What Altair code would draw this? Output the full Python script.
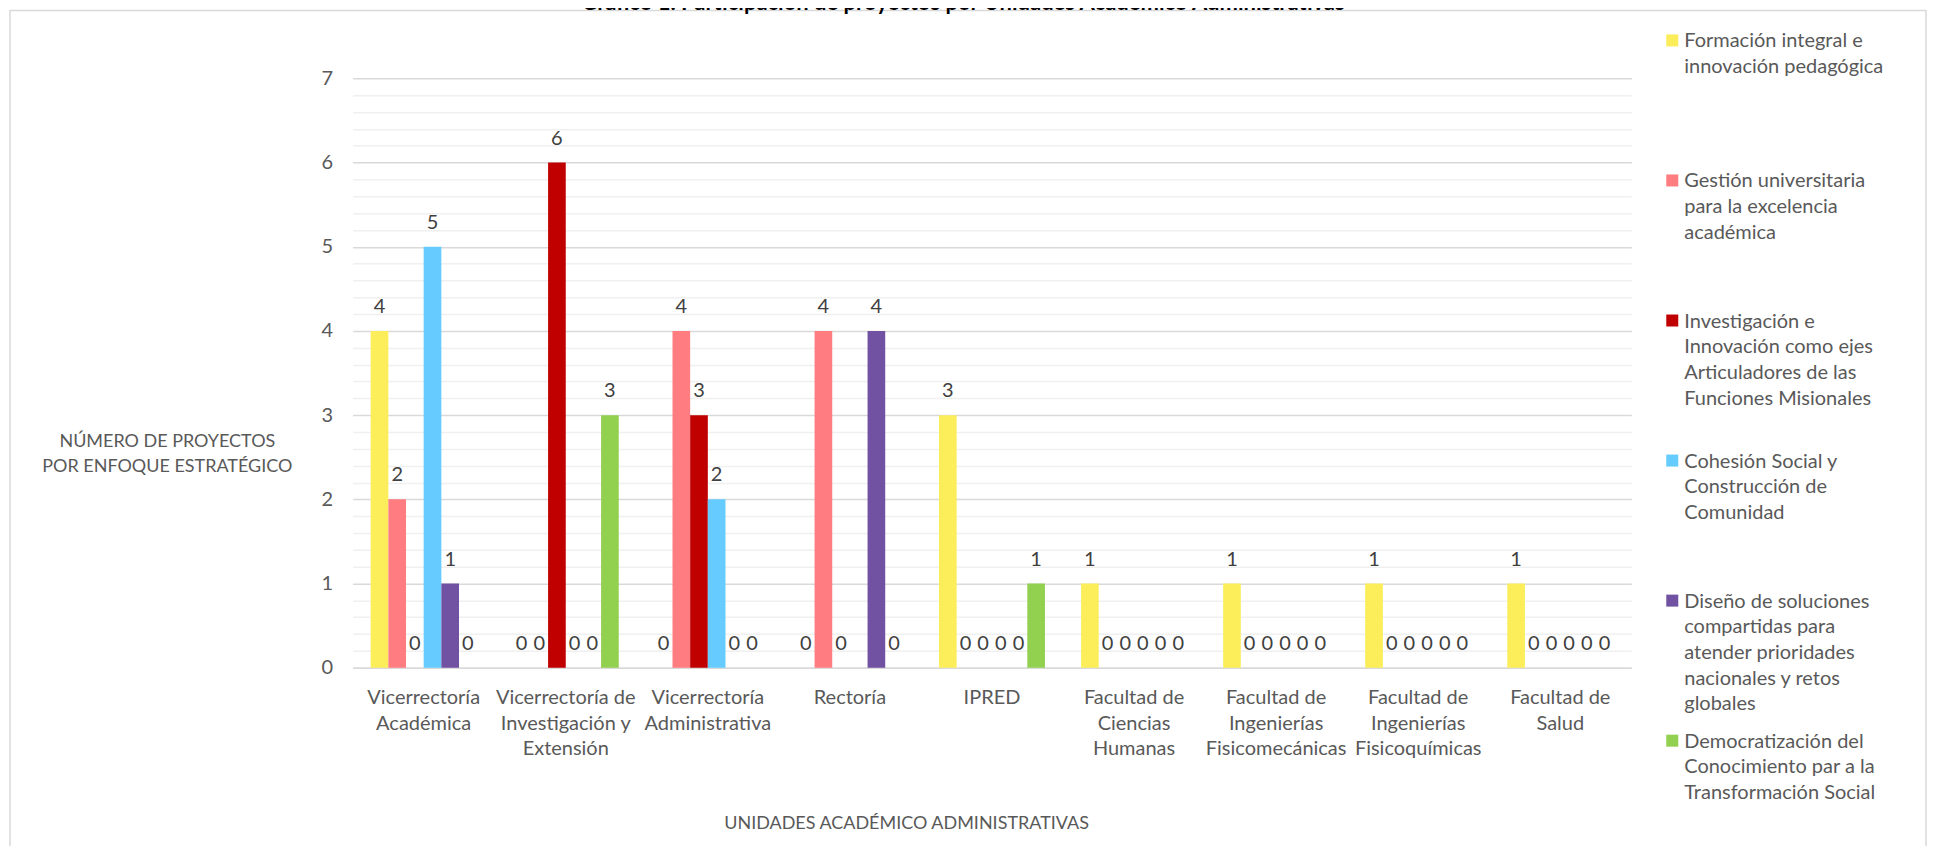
import altair as alt
import pandas as pd

# ---------------- data ----------------
unidades = [
    "Vicerrectoría\nAcadémica",
    "Vicerrectoría de\nInvestigación y\nExtensión",
    "Vicerrectoría\nAdministrativa",
    "Rectoría",
    "IPRED",
    "Facultad de\nCiencias\nHumanas",
    "Facultad de\nIngenierías\nFisicomecánicas",
    "Facultad de\nIngenierías\nFisicoquímicas",
    "Facultad de\nSalud",
]

enfoques = [
    "Formación integral e innovación pedagógica",
    "Gestión universitaria para la excelencia académica",
    "Investigación e Innovación como ejes Articuladores de las Funciones Misionales",
    "Cohesión Social y Construcción de Comunidad",
    "Diseño de soluciones compartidas para atender prioridades nacionales y retos globales",
    "Democratización del Conocimiento par a la Transformación Social",
]

enfoques_leyenda = [
    "Formación integral e\ninnovación pedagógica",
    "Gestión universitaria\npara la excelencia\nacadémica",
    "Investigación e\nInnovación como ejes\nArticuladores de las\nFunciones Misionales",
    "Cohesión Social y\nConstrucción de\nComunidad",
    "Diseño de soluciones\ncompartidas para\natender prioridades\nnacionales y retos\nglobales",
    "Democratización del\nConocimiento par a la\nTransformación Social",
]

colores = ["#FBEE5A", "#FF7C80", "#C00000", "#66CCFF", "#7151A1", "#92D050"]

formacion = [4, 0, 0, 0, 3, 1, 1, 1, 1]
gestion = [2, 0, 4, 4, 0, 0, 0, 0, 0]
investigacion = [0, 6, 3, 0, 0, 0, 0, 0, 0]
cohesion = [5, 0, 2, None, 0, 0, 0, 0, 0]
diseno = [1, 0, 0, 4, 0, 0, 0, 0, 0]
democratizacion = [0, 3, 0, 0, 1, 0, 0, 0, 0]

series = [formacion, gestion, investigacion, cohesion, diseno, democratizacion]

titulo = "Gráfico 1. Participación de proyectos por Unidades Académico Administrativas"
titulo_x = "UNIDADES ACADÉMICO ADMINISTRATIVAS"
titulo_y = ["NÚMERO DE PROYECTOS", "POR ENFOQUE ESTRATÉGICO"]

# ---------------- tables ----------------
rows = []
for e, vals in zip(enfoques, series):
    for u, v in zip(unidades, vals):
        rows.append({"unidad": u, "enfoque": e, "valor": v})
df = pd.DataFrame(rows)

leyenda_df = pd.DataFrame({"enfoque": enfoques, "etiqueta": enfoques_leyenda})
uno = pd.DataFrame({"k": [0]})

# ---------------- layout ----------------
FONT = "Lato"
FS = 20
W, H = 1280, 590
PL, PT = 345, 70
PR, PB = 296, 178

grid_vals = [round(i * 0.2, 1) for i in range(36)]

color_scale = alt.Scale(domain=enfoques, range=colores)

x_enc = alt.X(
    "unidad:N",
    sort=unidades,
    scale=alt.Scale(paddingInner=0.254, paddingOuter=0.127),
    axis=alt.Axis(
        title=titulo_x,
        labelAngle=0,
        labelExpr="split(datum.label, '\\n')",
        labelBaseline="top",
        labelLineHeight=25.5,
        labelPadding=20,
        labelLimit=400,
        labelOverlap=False,
        labelFontSize=FS,
        ticks=False,
        tickSize=0,
        domainColor="#d9d9d9",
        domainWidth=1.5,
        grid=False,
        titleX=554,
        titleY=156,
        titleAlign="center",
        titleBaseline="middle",
        titleFontSize=18,
    ),
)

y_enc = alt.Y(
    "valor:Q",
    scale=alt.Scale(domain=[0, 7], nice=False),
    axis=alt.Axis(
        values=grid_vals,
        tickCount=60,
        labelExpr="datum.value % 1 === 0 ? format(datum.value, 'd') : ''",
        gridColor={"condition": {"test": "datum.value % 1 === 0", "value": "#d9d9d9"},
                   "value": "#f0f0f0"},
        gridWidth=1.5,
        domain=False,
        ticks=False,
        tickSize=0,
        labelPadding=20,
        labelBaseline="middle",
        labelFontSize=FS,
        labelOverlap=False,
        title=titulo_y,
        titleAngle=0,
        titleX=-186,
        titleY=364,
        titleAlign="center",
        titleBaseline="middle",
        titleLineHeight=25,
        titleFontSize=18,
    ),
)

xo = alt.XOffset("enfoque:N", sort=enfoques, scale=alt.Scale(paddingInner=0, paddingOuter=0))

bars = alt.Chart(df).mark_bar().encode(
    x=x_enc,
    xOffset=xo,
    y=y_enc,
    color=alt.Color("enfoque:N", scale=color_scale, legend=None),
)

labels = alt.Chart(df).mark_text(
    dy=-24, baseline="middle", align="center", fontSize=FS, color="#404040", font=FONT
).encode(
    x=alt.X("unidad:N", sort=unidades),
    xOffset=xo,
    y=alt.Y("valor:Q"),
    text=alt.Text("valor:Q", format="d"),
)

main = alt.layer(bars, labels)

leg_y = alt.Y("enfoque:N", sort=enfoques,
              scale=alt.Scale(type="point", range=[-38, 663], padding=0), axis=None)

leg_sq = alt.Chart(leyenda_df).mark_square(size=144, opacity=1).encode(
    x=alt.value(1321),
    y=leg_y,
    color=alt.Color("enfoque:N", scale=color_scale, legend=None),
)

leg_txt = alt.Chart(leyenda_df).mark_text(
    align="left", baseline="alphabetic", dy=7, lineBreak="\n", lineHeight=25.7,
    fontSize=FS, color="#595959", font=FONT
).encode(
    x=alt.value(1333),
    y=leg_y,
    text="etiqueta:N",
)

frame = alt.Chart(uno).mark_rect(
    fillOpacity=0, stroke="#d9d9d9", strokeWidth=1.5
).encode(
    x=alt.value(-343), x2=alt.value(1575), y=alt.value(-68), y2=alt.value(900)
)

title_mark = alt.Chart(uno).mark_text(
    text=titulo, fontSize=22, fontWeight="bold", color="#000000",
    align="center", baseline="alphabetic", font=FONT
).encode(x=alt.value(611), y=alt.value(-68))

chart = alt.layer(frame, title_mark, main, leg_sq, leg_txt).resolve_scale(
    y="independent"
).properties(
    width=W,
    height=H,
    autosize=alt.AutoSizeParams(type="none"),
    padding={"left": PL, "top": PT, "right": PR, "bottom": PB},
).configure_view(
    strokeWidth=0
).configure_axis(
    labelFont=FONT, titleFont=FONT,
    labelColor="#595959", titleColor="#595959", titleFontWeight="normal",
).configure_text(font=FONT)

chart.save("out.html", embed_options={"renderer": "svg", "actions": False})
